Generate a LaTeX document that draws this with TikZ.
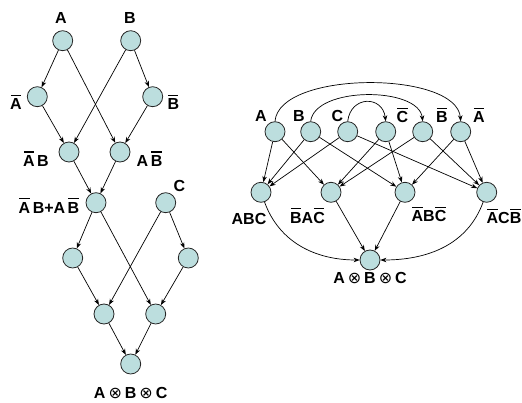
\documentclass[tikz,border=0pt]{standalone}
\usepackage{fontspec}
\setmainfont{Liberation Sans}
\newfontfamily\symfont{DejaVu Sans}
\usetikzlibrary{arrows.meta}
\definecolor{nodefill}{RGB}{188,222,222}
\newcommand\ovl[1]{\setbox0\hbox{#1}\rlap{\hspace{0.7pt}\raisebox{\dimexpr\ht0+3pt\relax}{\rule{\dimexpr\wd0-1.4pt\relax}{1.3pt}}}\box0}
\newcommand\oxx{\hspace{3pt}{\symfont\mdseries ⊗}\hspace{3pt}}
\newcommand\gp{\hspace{2.5pt}}
\begin{document}
\begin{tikzpicture}[x=1pt,y=-1pt,
  v/.style={circle,draw=black!85,line width=0.8pt,fill=nodefill,minimum size=20pt,inner sep=0pt},
  e/.style={-{Stealth[length=6pt,width=4.5pt]},line width=0.7pt},
  lbl/.style={font=\fontsize{16}{18}\selectfont\bfseries,anchor=base,inner sep=0pt}]
\useasboundingbox (0,0) rectangle (522,403);
% ---------- left graph ----------
\node[v] (A) at (62.7,40.7) {};
\node[v] (B) at (130.7,40.7) {};
\node[v] (nA) at (37.3,96.7) {};
\node[v] (nB) at (152.7,96.7) {};
\node[v] (nAB) at (69,152) {};
\node[v] (AnB) at (120,152) {};
\node[v] (S) at (96,202.7) {};
\node[v] (C) at (165.7,202.7) {};
\node[v] (L3) at (72.7,258) {};
\node[v] (R3) at (188.3,258) {};
\node[v] (L4) at (104,314) {};
\node[v] (R4) at (155.7,314) {};
\node[v] (X) at (130.7,364) {};
\node[lbl] (tA) at (61,24) {A};
\node[lbl] (tB) at (130,24) {B};
\node[lbl] (tnA) at (16,110) {\ovl{A}};
\node[lbl] (tnB) at (173.3,110) {\ovl{B}};
\node[lbl] (tnAB) at (36,166.7) {\ovl{A}\gp B};
\node[lbl] (tAnB) at (149.5,166.7) {A\gp\ovl{B}};
\node[lbl] (tS) at (49,213.3) {\ovl{A}\gp B+A\gp\ovl{B}};
\node[lbl] (tC) at (179.5,191.7) {C};
\node[lbl] (tX) at (130.7,398) {A\oxx B\oxx C};
\draw[e] (A) -- (nA);
\draw[e] (A) -- (AnB);
\draw[e] (B) -- (nAB);
\draw[e] (B) -- (nB);
\draw[e] (nA) -- (nAB);
\draw[e] (nB) -- (AnB);
\draw[e] (nAB) -- (S);
\draw[e] (AnB) -- (S);
\draw[e] (S) -- (L3);
\draw[e] (S) -- (R4);
\draw[e] (C) -- (L4);
\draw[e] (C) -- (R3);
\draw[e] (L3) -- (L4);
\draw[e] (R3) -- (R4);
\draw[e] (L4) -- (X);
\draw[e] (R4) -- (X);
% ---------- right graph ----------
\node[v] (ra) at (275,131.7) {};
\node[v] (rb) at (310.7,131.7) {};
\node[v] (rc) at (347.7,131.7) {};
\node[v] (rnc) at (385.7,131.7) {};
\node[v] (rnb) at (422.7,131.7) {};
\node[v] (rna) at (460.7,131.7) {};
\node[v] (m1) at (261,192.3) {};
\node[v] (m2) at (331,192.3) {};
\node[v] (m3) at (405,192.3) {};
\node[v] (m4) at (486.7,192.3) {};
\node[v] (rx) at (370,260) {};
\node[lbl] (tra) at (260.8,121.7) {A};
\node[lbl] (trb) at (299,121.7) {B};
\node[lbl] (trc) at (337.5,121.7) {C};
\node[lbl] (trnc) at (402.5,123) {\ovl{C}};
\node[lbl] (trnb) at (442,123) {\ovl{B}};
\node[lbl] (trna) at (479,123) {\ovl{A}};
\node[lbl] (tm1) at (249,225) {ABC};
\node[lbl] (tm2) at (307.5,223.3) {\ovl{B}A\ovl{C}};
\node[lbl] (tm3) at (429,222) {\ovl{A}B\ovl{C}};
\node[lbl] (tm4) at (504,224) {\ovl{A}C\ovl{B}};
\node[lbl] (trx) at (370,283.3) {A\oxx B\oxx C};
\draw[e] (ra.north) .. controls +(4,-51) and +(-4,-51) .. (rna.north);
\draw[e] (rb.north) .. controls +(4,-35) and +(-4,-35) .. (rnb.north);
\draw[e] (rc.north) .. controls +(3,-26) and +(-3,-26) .. (rnc.north);
\draw[e] (ra) -- (m1);
\draw[e] (ra) -- (m2);
\draw[e] (rb) -- (m1);
\draw[e] (rb) -- (m3);
\draw[e] (rc) -- (m1);
\draw[e] (rc) -- (m4);
\draw[e] (rnc) -- (m2);
\draw[e] (rnc) -- (m3);
\draw[e] (rnb) -- (m2);
\draw[e] (rnb) -- (m4);
\draw[e] (rna) -- (m3);
\draw[e] (rna) -- (m4);
\draw[e] (m2) -- (rx);
\draw[e] (m3) -- (rx);
\draw[e] (m1.-70) to[out=-70,in=180] (rx.west);
\draw[e] (m4.-110) to[out=-110,in=0] (rx.east);
\end{tikzpicture}
\end{document}
